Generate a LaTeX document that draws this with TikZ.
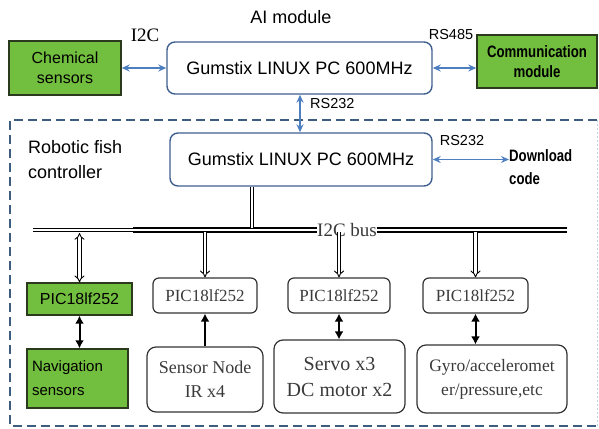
\documentclass[tikz,border=0pt]{standalone}
\usepackage{fontspec}
\setmainfont{Liberation Serif}
\setsansfont{Liberation Sans}
\newfontfamily\narrowbold{Liberation Sans}[FakeStretch=0.8, BoldFeatures={FakeStretch=0.8}]
\usetikzlibrary{arrows.meta}
\definecolor{boxgreen}{HTML}{72BE3E}
\definecolor{greenedge}{HTML}{2B3A1C}
\definecolor{linkblue}{HTML}{4C7EC0}
\definecolor{pcedge}{HTML}{3F5F8F}
\definecolor{dashcol}{HTML}{3E5C7E}
\definecolor{txtgray}{HTML}{3A3A3A}
\tikzset{
  greenbox/.style={draw=greenedge, fill=boxgreen, line width=1.4pt, inner sep=0pt, align=center},
  pcbox/.style={draw=pcedge, line width=1.4pt, rounded corners=8pt, inner sep=0pt, font=\sffamily\fontsize{18}{20}\selectfont},
  picbox/.style={draw=black!80, line width=1.2pt, rounded corners=6pt, inner sep=0pt, align=center, text=txtgray, font=\rmfamily\fontsize{17}{18}\selectfont},
  devbox/.style={draw=black!80, line width=1.2pt, rounded corners=9pt, inner sep=0pt, align=center, text=txtgray},
  bluelink/.style={draw=linkblue, line width=1.4pt, {Stealth[length=8pt,width=7pt]}-{Stealth[length=8pt,width=7pt]}},
  hollow/.style={double, double distance=2.6pt, line width=0.9pt},
  blacklink/.style={line width=2pt, draw=black},
  lbl/.style={inner sep=0pt}
}
\begin{document}
\begin{tikzpicture}[x=1pt,y=-1pt]
\useasboundingbox (0,0) rectangle (599,428);

% container
\draw[dashcol, line width=1.3pt, dash pattern=on 9pt off 5pt] (597,120) -- (10,120) -- (10,426) -- (597,426);
\draw[linkblue!35, line width=0.8pt, dash pattern=on 2pt off 2pt] (597,120) -- (597,426);

% top row
\node[greenbox, minimum width=112pt, minimum height=54pt, font=\sffamily\fontsize{16}{20}\selectfont] (chem) at (65,68) {Chemical\\sensors};
\node[pcbox, minimum width=265pt, minimum height=52pt] (ai) at (299.5,68) {Gumstix LINUX PC 600MHz};
\node[greenbox, minimum width=120pt, minimum height=53pt, font=\narrowbold\bfseries\fontsize{16.5}{20}\selectfont] (comm) at (537,61.5) {Communication\\module};
\node[lbl, font=\sffamily\fontsize{18}{20}\selectfont] (ailbl) at (291,17) {AI module};
\node[lbl, font=\rmfamily\fontsize{19}{20}\selectfont] (i2c) at (145,35) {I2C};
\node[lbl, font=\sffamily\fontsize{14.5}{16}\selectfont] (rs485) at (451,35) {RS485};

\draw[bluelink] (chem.east |- ai.west) -- (ai.west);
\draw[bluelink] (ai.east) -- (ai.east -| comm.west);

% controller
\node[pcbox, minimum width=262pt, minimum height=53pt] (ctl) at (301,159.5) {Gumstix LINUX PC 600MHz};
\draw[bluelink] (ai.south -| 300,0) -- (ctl.north -| 300,0);
\node[lbl, font=\sffamily\fontsize{14.5}{16}\selectfont, anchor=west] (rs232a) at (310,104) {RS232};
\node[lbl, font=\sffamily\fontsize{18}{25}\selectfont, align=left, anchor=north west] (rfc) at (28,140) {Robotic fish\\controller};
\node[lbl, font=\sffamily\fontsize{14.5}{16}\selectfont] (rs232b) at (462,141) {RS232};
\node[lbl, font=\narrowbold\bfseries\fontsize{16.5}{23}\selectfont, align=left, anchor=west] (dl) at (509,167) {Download\\code};
\draw[bluelink] (ctl.east) -- (ctl.east -| dl.west);

% bus
\coordinate (busL) at (33,230);
\coordinate (busM) at (133,230);
\coordinate (busR) at (567,230);
\node[lbl, font=\rmfamily\fontsize{19}{20}\selectfont, text=txtgray] (buslbl) at (347,230) {I2C bus};
\draw[double, double distance=2pt, line width=1pt] (busL) -- (busM);
\draw[double=white, double distance=1.2pt, line width=2.6pt] (busM) -- (buslbl.west);
\draw[double=white, double distance=1.2pt, line width=2.6pt] (buslbl.east) -- (busR);
\coordinate (tap) at (252,228);
\draw[hollow] (ctl.south -| tap) -- (tap);

% PIC row
\node[greenbox, minimum width=105pt, minimum height=32pt, font=\sffamily\fontsize{16}{18}\selectfont] (p1) at (79.5,299) {PIC18lf252};
\node[picbox, minimum width=104pt, minimum height=35pt] (p2) at (205,295.5) {PIC18lf252};
\node[picbox, minimum width=102pt, minimum height=35pt] (p3) at (339,295.5) {PIC18lf252};
\node[picbox, minimum width=105pt, minimum height=35pt] (p4) at (475.5,295.5) {PIC18lf252};

\coordinate (b1) at (79.5,233);
\coordinate (b2) at (205,232);
\coordinate (b3) at (339,232);
\coordinate (b4) at (475.5,232);
\draw[hollow, {Implies}-{Implies}] (b1) -- (p1.north);
\draw[hollow, -{Implies}] (b2) -- (p2.north);
\draw[hollow, -{Implies}] (b3) -- (p3.north);
\draw[hollow, -{Implies}] (b4) -- (p4.north);

% bottom row
\node[greenbox, minimum width=101pt, minimum height=59pt, font=\sffamily\fontsize{15}{24}\selectfont, align=left, text width=91pt] (nav) at (77.5,378.5) {Navigation\\sensors};
\node[devbox, minimum width=116pt, minimum height=65pt, font=\rmfamily\fontsize{18}{24}\selectfont] (sn) at (205,379.5) {Sensor Node\\IR x4};
\node[devbox, minimum width=131pt, minimum height=73pt, font=\rmfamily\fontsize{20}{26}\selectfont] (servo) at (339.5,376.5) {Servo x3\\DC motor x2};
\node[devbox, minimum width=150pt, minimum height=68pt, font=\rmfamily\fontsize{17.5}{24}\selectfont] (gyro) at (492,379) {Gyro/acceleromet\\er/pressure,etc};

\draw[blacklink, {Latex[length=8pt,width=9pt]}-{Latex[length=8pt,width=9pt]}] (p1.south) -- (p1.south |- nav.north);
\draw[blacklink, -{Latex[length=8pt,width=9pt]}] (sn.north) -- (p2.south);
\draw[blacklink, {Latex[length=8pt,width=9pt]}-{Latex[length=8pt,width=9pt]}] (p3.south) -- (p3.south |- servo.north);
\draw[blacklink, {Latex[length=8pt,width=9pt]}-{Latex[length=8pt,width=9pt]}] (p4.south) -- (p4.south |- gyro.north);
\end{tikzpicture}
\end{document}
